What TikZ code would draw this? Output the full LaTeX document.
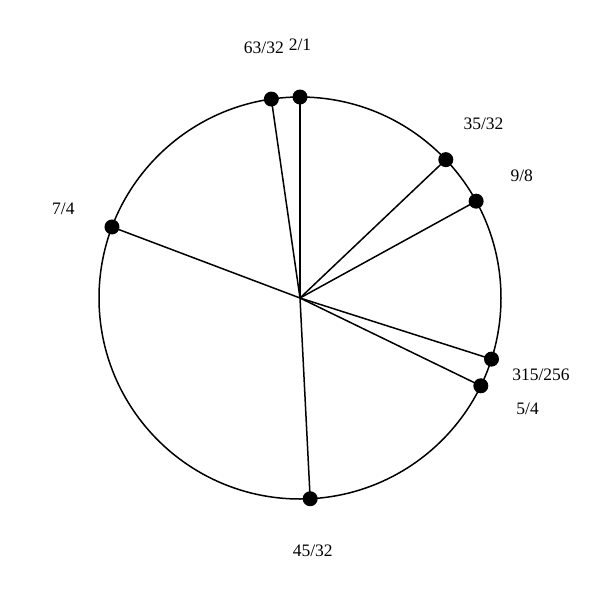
\documentclass[tikz,border=0pt]{standalone}
\usepackage{fontspec}
\setmainfont{Liberation Serif}
\usetikzlibrary{calc}
\begin{document}
\begin{tikzpicture}[x=1pt,y=1pt,
  dot/.style={circle,fill=black,inner sep=0pt,minimum size=15pt},
  lbl/.style={font=\fontsize{17.5}{21}\selectfont,inner sep=0pt},
  spoke/.style={line width=1.5pt}]
\useasboundingbox (0,0) rectangle (600,-600);
\coordinate (c) at (300,-298);
\draw[line width=1.5pt] (c) circle (201);
\foreach \n/\t/\a in {a/2\slash 1/0, b/63\slash 32/351.8, c35/35\slash 32/46.5, d/9\slash 8/61.2, e/315\slash 256/107.7, f/5\slash 4/115.9, g/45\slash 32/177.1, h/7\slash 4/290.7}{
  \node[dot] (p\n) at ($(c)+({90-\a}:201)$) {};
  \draw[spoke] (c) -- (p\n.center);
  \node[lbl] (l\n) at ($(c)+({90-\a}:253)$) {\t};
}
\end{tikzpicture}
\end{document}
